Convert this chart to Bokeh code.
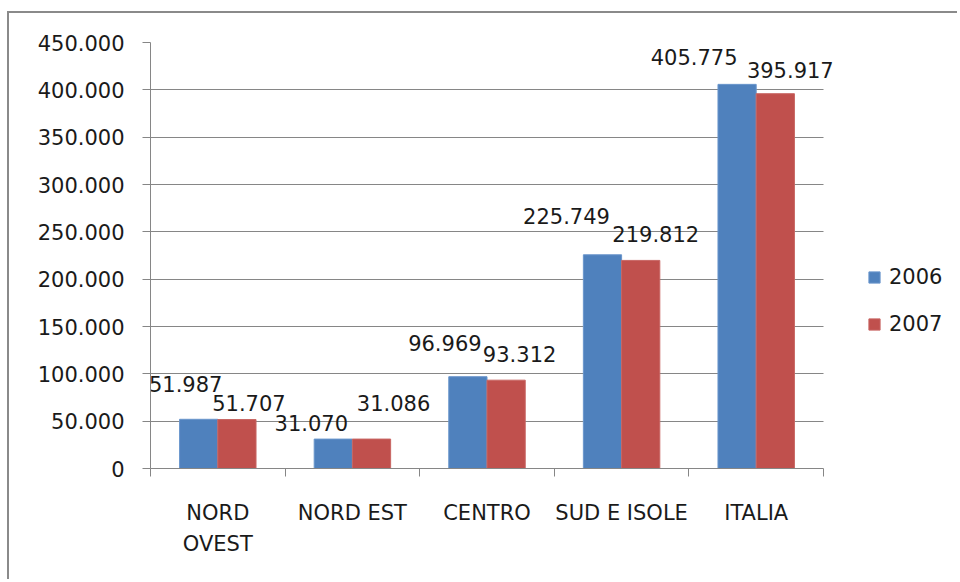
from bokeh.plotting import figure
from bokeh.models import Range1d, FixedTicker, Legend, LegendItem, ColumnDataSource
from bokeh.embed import file_html
from bokeh.resources import INLINE
from bokeh.core.properties import value

# ---- data ----
categories = ["NORD OVEST", "NORD EST", "CENTRO", "SUD E ISOLE", "ITALIA"]
category_labels = ["NORD\nOVEST", "NORD EST", "CENTRO", "SUD E ISOLE", "ITALIA"]
series_names = ["2006", "2007"]
values_2006 = [51987, 31070, 96969, 225749, 405775]
values_2007 = [51707, 31086, 93312, 219812, 395917]
y_ticks = [0, 50000, 100000, 150000, 200000, 250000, 300000, 350000, 400000, 450000]
y_tick_labels = ["0", "50.000", "100.000", "150.000", "200.000", "250.000",
                 "300.000", "350.000", "400.000", "450.000"]

# ---- styling ----
colors = ["#4F81BD", "#C0504D"]
edge_colors = ["#6A96CC", "#C86663"]
bar_w = 0.284
bar_shift = 0.142
# data-label nudges (pixels) imitating the spreadsheet's label placement
label_dx = [[-13, -22, -23, -36, -43], [12, 22, 13.5, 15, 15]]
label_dy = [[35, 16, 34, 39, 27], [16.5, 36, 26, 26, 24]]
FONT = "DejaVu Sans"
GRID = "#868686"
W, H = 950, 568
B_LEFT, B_RIGHT, B_TOP, B_BOTTOM = 141, 4, 29, 113
CAT_SPAN_PX = 673          # pixel width occupied by the five categories


def fmt(v):
    return f"{v:,}".replace(",", ".")


n = len(categories)
centers = [i + 0.5 for i in range(n)]
frame_w = W - B_LEFT - B_RIGHT
x_end = n * frame_w / CAT_SPAN_PX

p = figure(width=W, height=H,
           x_range=Range1d(0, x_end), y_range=Range1d(y_ticks[0], y_ticks[-1]),
           output_backend="svg", toolbar_location=None,
           min_border_left=B_LEFT, min_border_right=B_RIGHT,
           min_border_top=B_TOP, min_border_bottom=B_BOTTOM,
           styles={"border-left": "2px solid #8a8a8a",
                   "border-top": "2px solid #8a8a8a",
                   "margin-top": "11px", "margin-left": "7px"})
p.outline_line_color = None
p.background_fill_color = "white"
p.border_fill_color = "white"

# horizontal gridlines limited to the category span
try:
    p.ygrid.cross_bounds = (0, n)
    p.ygrid.grid_line_color = GRID
    p.ygrid.grid_line_width = 1
except Exception:
    p.ygrid.grid_line_color = None
    p.segment(x0=[0] * len(y_ticks), x1=[n] * len(y_ticks), y0=y_ticks, y1=y_ticks,
              line_color=GRID, line_width=1)
p.xgrid.grid_line_color = None

renderers = []
for k, vals in enumerate([values_2006, values_2007]):
    sign = -1 if k == 0 else 1
    src = ColumnDataSource(dict(
        x=[c + sign * bar_shift for c in centers],
        top=vals,
        label=[fmt(v) for v in vals],
        dx=label_dx[k],
        dy=[-d for d in label_dy[k]],
    ))
    r = p.vbar(x="x", top="top", bottom=0, width=bar_w, source=src,
               fill_color=colors[k], line_color=edge_colors[k], line_width=1)
    renderers.append(r)
    p.text(x="x", y="top", text="label", source=src,
           x_offset="dx", y_offset="dy",
           text_font=value(FONT), text_font_size="21px",
           text_color="#1a1a1a", text_align="center", text_baseline="middle")

# y axis
ya = p.yaxis[0]
ya.ticker = FixedTicker(ticks=y_ticks)
ya.major_label_overrides = {t: l for t, l in zip(y_ticks, y_tick_labels)}
ya.major_tick_in = 0
ya.major_tick_out = 8
ya.minor_tick_line_color = None
ya.major_tick_line_color = GRID
ya.axis_line_color = GRID
ya.major_label_text_font = FONT
ya.major_label_text_font_size = "21px"
ya.major_label_text_color = "#1a1a1a"
ya.major_label_standoff = 18

# x axis
xa = p.xaxis[0]
xa.bounds = (0, n)
xa.ticker = FixedTicker(ticks=centers, minor_ticks=list(range(n + 1)))
xa.major_label_overrides = {c: l for c, l in zip(centers, category_labels)}
xa.major_tick_line_color = None
xa.major_tick_in = 0
xa.major_tick_out = 8
xa.minor_tick_in = 0
xa.minor_tick_out = 8
xa.minor_tick_line_color = GRID
xa.axis_line_color = GRID
xa.major_label_text_font = FONT
xa.major_label_text_font_size = "21px"
xa.major_label_text_color = "#1a1a1a"
xa.major_label_standoff = 24
xa.major_label_text_line_height = 1.32

legend = Legend(items=[LegendItem(label=series_names[k], renderers=[renderers[k]])
                       for k in range(2)],
                location=(717, 132), orientation="vertical",
                glyph_width=14, glyph_height=14, label_standoff=8,
                spacing=23, padding=0, margin=0,
                label_text_font=FONT, label_text_font_size="21px",
                label_text_color="#1a1a1a",
                border_line_color=None, background_fill_alpha=0)
p.add_layout(legend, "center")

open("out.html", "w").write(file_html(p, INLINE))
